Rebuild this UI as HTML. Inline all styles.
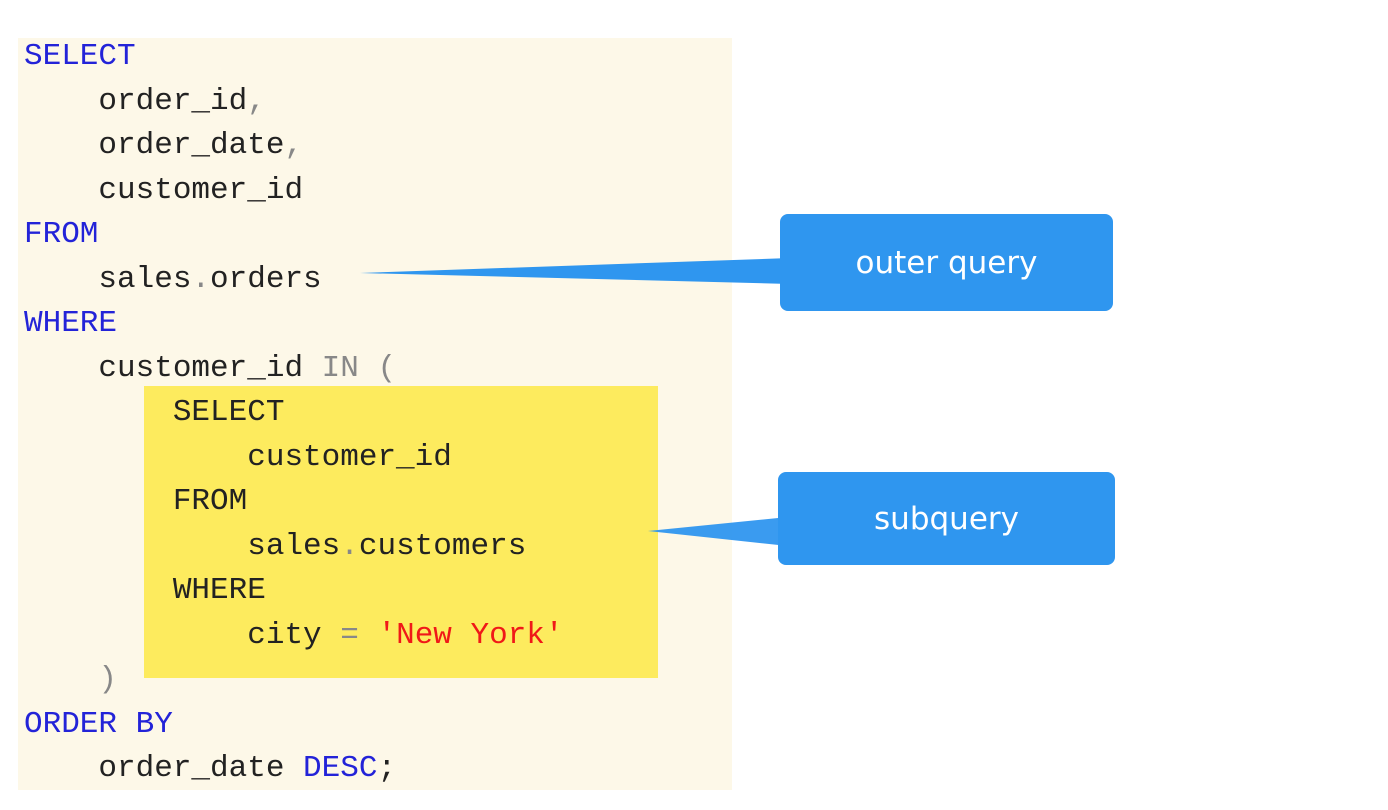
<!DOCTYPE html>
<html><head><meta charset="utf-8"><style>
body{margin:0;width:1388px;height:810px;background:#fff;position:relative;overflow:hidden}
.panel{position:absolute;left:18px;top:38px;width:714px;height:752px;background:#fdf8e8}
.yel{position:absolute;left:144px;top:386px;width:514px;height:292px;background:#fdeb5e}
pre{position:absolute;left:24px;top:35px;margin:0;font-family:"Liberation Mono",monospace;font-size:31px;line-height:44.5px;color:#222}
.k{color:#2323d8}.g{color:#888}.r{color:#f01818}
.box{position:absolute;background:#2f96ef;border-radius:8px;color:#fff;font-family:"DejaVu Sans","Liberation Sans",sans-serif;font-size:31px;display:flex;align-items:center;justify-content:center}
svg{position:absolute;left:0;top:0}
</style></head><body>
<div class="panel"></div>
<div class="yel"></div>
<pre><span class="k">SELECT</span>
    order_id<span class="g">,</span>
    order_date<span class="g">,</span>
    customer_id
<span class="k">FROM</span>
    sales<span class="g">.</span>orders
<span class="k">WHERE</span>
    customer_id <span class="g">IN (</span>
        SELECT
            customer_id
        FROM
            sales<span class="g">.</span>customers
        WHERE
            city <span class="g">=</span> <span class="r">'New York'</span>
    <span class="g">)</span>
<span class="k">ORDER BY</span>
    order_date <span class="k">DESC</span>;</pre>
<svg width="1388" height="810"><polygon points="360,273 790,258 790,284" fill="#2f96ef"/><polygon points="648,531 788,517 788,546" fill="#2f96ef" opacity="0.95"/></svg>
<div class="box" style="left:780px;top:214px;width:333px;height:97px">outer query</div>
<div class="box" style="left:778px;top:472px;width:337px;height:93px">subquery</div>
</body></html>
